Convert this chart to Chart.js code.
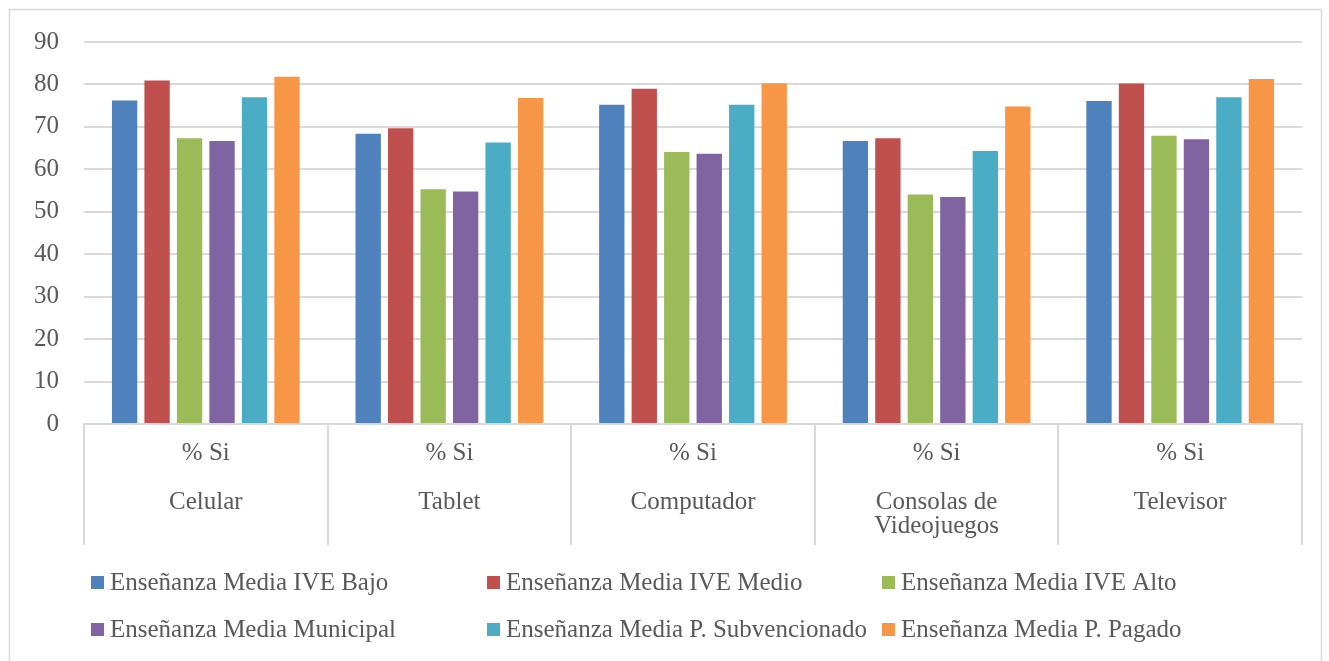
<!DOCTYPE html>
<html>
<head>
<meta charset="utf-8">
<script src="https://cdn.jsdelivr.net/npm/chart.js@4"></script>
<style>
  html, body { margin: 0; padding: 0; background: #fff; }
  #wrap { position: relative; width: 1329px; height: 661px; }
</style>
</head>
<body>
<div id="wrap"><canvas id="c" width="1329" height="661"></canvas></div>
<script>
const categories = [
  ['% Si', '', 'Celular'],
  ['% Si', '', 'Tablet'],
  ['% Si', '', 'Computador'],
  ['% Si', '', 'Consolas de', 'Videojuegos'],
  ['% Si', '', 'Televisor']
];
const seriesNames = [
  'Enseñanza Media IVE Bajo',
  'Enseñanza Media IVE Medio',
  'Enseñanza Media IVE Alto',
  'Enseñanza Media Municipal',
  'Enseñanza Media P. Subvencionado',
  'Enseñanza Media P. Pagado'
];
const ivBajo      = [76.2, 68.4, 75.2, 66.7, 76.1];
const ivMedio     = [80.9, 69.7, 79.0, 67.3, 80.2];
const ivAlto      = [67.3, 55.3, 64.1, 54.1, 67.9];
const municipal   = [66.7, 54.8, 63.7, 53.5, 67.1];
const subvenc     = [77.0, 66.3, 75.2, 64.3, 77.0];
const pagado      = [81.8, 76.8, 80.3, 74.8, 81.3];
const yTicks = [0, 10, 20, 30, 40, 50, 60, 70, 80, 90];

const colors = ['#4F81BD', '#C0504D', '#9BBB59', '#8064A2', '#4BACC6', '#F79646'];
const seriesValues = [ivBajo, ivMedio, ivAlto, municipal, subvenc, pagado];

const FONT = "'Liberation Serif', 'Times New Roman', serif";
const TXT = '#595959';
const GRID = '#d9d9d9';

const legendPlugin = {
  id: 'gridLegend',
  afterDraw(chart) {
    const ctx = chart.ctx;
    ctx.save();
    // outer border
    ctx.strokeStyle = GRID;
    ctx.lineWidth = 1.5;
    ctx.strokeRect(9.5, 9.5, 1312, 700);
    // legend
    const colX = [91, 487, 882];
    const rowY = [582, 629];
    ctx.font = '25px ' + FONT;
    ctx.textBaseline = 'middle';
    chart.data.datasets.forEach((ds, i) => {
      const x = colX[i % 3];
      const y = rowY[Math.floor(i / 3)];
      ctx.fillStyle = ds.backgroundColor;
      ctx.fillRect(x, y - 6, 13, 13);
      ctx.fillStyle = TXT;
      ctx.fillText(ds.label, x + 19, y + 1);
    });
    ctx.restore();
  }
};

new Chart(document.getElementById('c'), {
  type: 'bar',
  data: {
    labels: categories,
    datasets: seriesNames.map((name, i) => ({
      label: name,
      data: seriesValues[i],
      backgroundColor: colors[i],
      borderWidth: 0,
      categoryPercentage: 0.8,
      barPercentage: 0.78
    }))
  },
  options: {
    responsive: false,
    animation: false,
    layout: { padding: { top: 42, right: 27, bottom: 116, left: 0 } },
    plugins: {
      legend: { display: false },
      tooltip: { enabled: false }
    },
    scales: {
      x: {
        offset: true,
        afterFit(scale) { scale.height = 121; },
        border: { display: true, color: GRID, width: 2 },
        grid: {
          display: true,
          offset: true,
          drawOnChartArea: false,
          drawTicks: true,
          tickLength: 121,
          color: GRID,
          lineWidth: 2
        },
        ticks: {
          padding: -104,
          color: TXT,
          font: { family: FONT, size: 25, lineHeight: '24.5px' },
          autoSkip: false,
          maxRotation: 0
        }
      },
      y: {
        min: 0,
        max: 90,
        afterFit(scale) { scale.width = 84; },
        afterBuildTicks(scale) { scale.ticks = yTicks.map(v => ({ value: v })); },
        border: { display: false },
        grid: { color: GRID, lineWidth: 2, drawTicks: false },
        ticks: {
          padding: 25,
          color: TXT,
          font: { family: FONT, size: 25 }
        }
      }
    }
  },
  plugins: [legendPlugin]
});
</script>
</body>
</html>
